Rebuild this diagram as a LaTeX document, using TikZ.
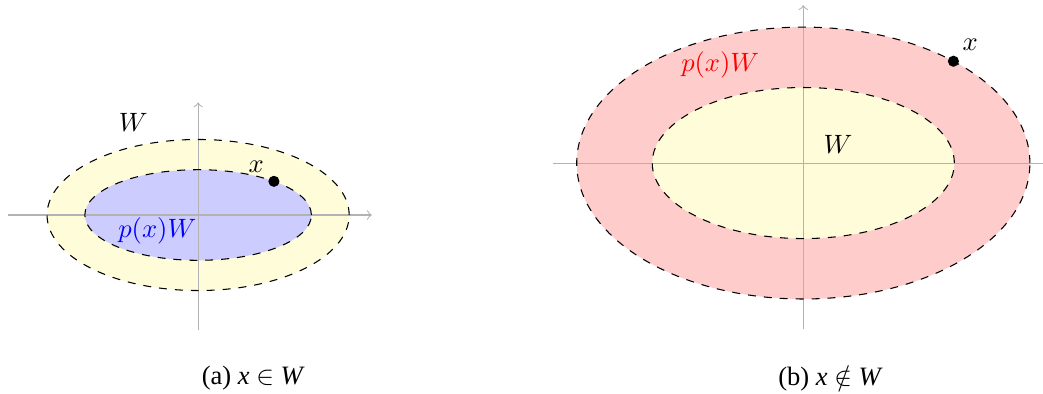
\documentclass[tikz,border=0pt]{standalone}
\usepackage{fontspec}
\setmainfont{Liberation Serif}
\begin{document}
\begin{tikzpicture}[font=\normalsize]
\useasboundingbox (0,0) rectangle (13.81,5.205);
% (a) x in W
\begin{scope}[shift={(2.623,2.358)}]
\fill[yellow!15] (0,0) ellipse (2 and 1);
\fill[blue!20] (0,0) ellipse (1.5 and 0.6);
\draw[->,gray!60] (-2.52,0)--(2.3,0);
\draw[->,gray!60] (0,-1.52)--(0,1.49);
\draw[dashed] (0,0) ellipse (2 and 1);
\draw[dashed] (0,0) ellipse (1.5 and 0.6);
\fill (48:1.5 and 0.6) circle (2.1pt) coordinate (ptA);
\node (xA) at (0.77,0.64) {$x$};
\node (wA) at (-0.86,1.23) {$W$};
\node[blue] (pwA) at (-0.54,-0.21) {$p(x)W$};
\node (capA) at (0.73,-2.158) {(a) \textit{x} $\in$ \textit{W}};
\end{scope}
% (b) x not in W
\begin{scope}[shift={(10.636,3.046)}]
\fill[red!20] (0,0) ellipse (3 and 1.8);
\fill[yellow!15] (0,0) ellipse (2 and 1);
\draw[gray!60] (-3.32,0)--(3.17,0);
\draw[->,gray!60] (0,-2.2)--(0,2.09);
\draw[dashed] (0,0) ellipse (3 and 1.8);
\draw[dashed] (0,0) ellipse (2 and 1);
\fill (48.5:3 and 1.8) circle (2.1pt) coordinate (ptB);
\node (xB) at (2.21,1.56) {$x$};
\node (wB) at (0.46,0.24) {$W$};
\node[red] (pwB) at (-1.10,1.30) {$p(x)W$};
\node (capB) at (0.36,-2.846) {(b) \textit{x} $\notin$ \textit{W}};
\end{scope}
\end{tikzpicture}
\end{document}
